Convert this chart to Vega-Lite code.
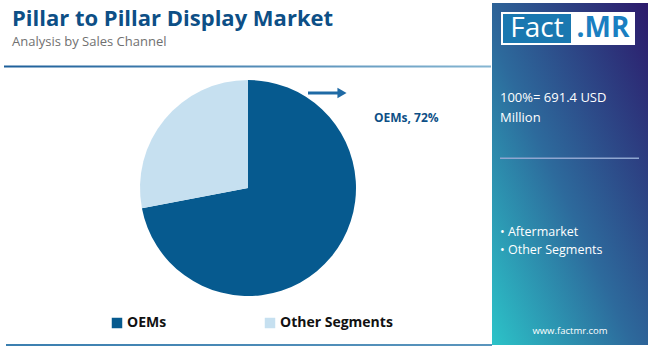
{
  "$schema": "https://vega.github.io/schema/vega-lite/v6.json",
  "width": 650,
  "height": 347,
  "autosize": {"type": "none"},
  "padding": 0,
  "background": "white",
  "view": {"stroke": null},
  "config": {"font": "Open Sans"},
  "title": {
    "text": "Pillar to Pillar Display Market",
    "subtitle": "Analysis by Sales Channel",
    "anchor": "start",
    "frame": "group",
    "orient": "top",
    "dx": 12,
    "dy": 54,
    "font": "Open Sans",
    "fontSize": 22,
    "fontWeight": "bold",
    "color": "#0d4f86",
    "subtitleFont": "Open Sans",
    "subtitleFontSize": 13,
    "subtitleColor": "#707070",
    "subtitlePadding": 5
  },
  "data": {"values": [
    {"channel": "OEMs", "share": 72},
    {"channel": "Other Segments", "share": 28}
  ]},
  "layer": [
    {
      "data": {"values": [{}]},
      "mark": {"type": "rect", "color": {"gradient": "linear", "x1": 0, "y1": 1, "x2": 1, "y2": 0, "stops": [{"offset": 0, "color": "#2cc3c8"}, {"offset": 0.45, "color": "#2d6a9c"}, {"offset": 1, "color": "#2c1a6b"}]}},
      "encoding": {
        "x": {"datum": 492, "type": "quantitative", "scale": {"domain": [0, 650], "nice": false, "zero": false}, "axis": null},
        "x2": {"datum": 648},
        "y": {"datum": 3, "type": "quantitative", "scale": {"domain": [0, 347], "nice": false, "zero": false, "reverse": true}, "axis": null},
        "y2": {"datum": 345}
      }
    },
    {
      "data": {"values": [{}]},
      "mark": {"type": "rect", "color": "white"},
      "encoding": {
        "x": {"datum": 501, "type": "quantitative", "scale": {"domain": [0, 650], "nice": false, "zero": false}, "axis": null},
        "x2": {"datum": 635},
        "y": {"datum": 12, "type": "quantitative", "scale": {"domain": [0, 347], "nice": false, "zero": false, "reverse": true}, "axis": null},
        "y2": {"datum": 45}
      }
    },
    {
      "data": {"values": [{}]},
      "mark": {"type": "rect", "color": "#1a78b0"},
      "encoding": {
        "x": {"datum": 503, "type": "quantitative", "scale": {"domain": [0, 650], "nice": false, "zero": false}, "axis": null},
        "x2": {"datum": 571},
        "y": {"datum": 14, "type": "quantitative", "scale": {"domain": [0, 347], "nice": false, "zero": false, "reverse": true}, "axis": null},
        "y2": {"datum": 43}
      }
    },
    {
      "data": {"values": [{}]},
      "mark": {"type": "text", "text": "Fact", "font": "Open Sans", "fontSize": 28, "color": "white", "align": "center", "baseline": "middle"},
      "encoding": {
        "x": {"datum": 537, "type": "quantitative", "scale": {"domain": [0, 650], "nice": false, "zero": false}, "axis": null},
        "y": {"datum": 29, "type": "quantitative", "scale": {"domain": [0, 347], "nice": false, "zero": false, "reverse": true}, "axis": null}
      }
    },
    {
      "data": {"values": [{}]},
      "mark": {"type": "text", "text": ".MR", "font": "Open Sans", "fontSize": 28, "fontWeight": "bold", "color": "#1a7fc1", "align": "center", "baseline": "middle"},
      "encoding": {
        "x": {"datum": 603, "type": "quantitative", "scale": {"domain": [0, 650], "nice": false, "zero": false}, "axis": null},
        "y": {"datum": 29, "type": "quantitative", "scale": {"domain": [0, 347], "nice": false, "zero": false, "reverse": true}, "axis": null}
      }
    },
    {
      "data": {"values": [{}]},
      "mark": {"type": "text", "text": ["100%= 691.4 USD", "Million"], "lineHeight": 20, "font": "Open Sans", "fontSize": 13, "color": "white", "align": "left", "baseline": "middle"},
      "encoding": {
        "x": {"datum": 500, "type": "quantitative", "scale": {"domain": [0, 650], "nice": false, "zero": false}, "axis": null},
        "y": {"datum": 98, "type": "quantitative", "scale": {"domain": [0, 347], "nice": false, "zero": false, "reverse": true}, "axis": null}
      }
    },
    {
      "data": {"values": [{}]},
      "mark": {"type": "rect", "color": "#8fa6d0"},
      "encoding": {
        "x": {"datum": 500, "type": "quantitative", "scale": {"domain": [0, 650], "nice": false, "zero": false}, "axis": null},
        "x2": {"datum": 639},
        "y": {"datum": 157.5, "type": "quantitative", "scale": {"domain": [0, 347], "nice": false, "zero": false, "reverse": true}, "axis": null},
        "y2": {"datum": 159}
      }
    },
    {
      "data": {"values": [{}]},
      "mark": {"type": "text", "text": ["• Aftermarket", "• Other Segments"], "lineHeight": 18, "font": "Open Sans", "fontSize": 12.5, "color": "white", "align": "left", "baseline": "middle"},
      "encoding": {
        "x": {"datum": 500, "type": "quantitative", "scale": {"domain": [0, 650], "nice": false, "zero": false}, "axis": null},
        "y": {"datum": 232, "type": "quantitative", "scale": {"domain": [0, 347], "nice": false, "zero": false, "reverse": true}, "axis": null}
      }
    },
    {
      "data": {"values": [{}]},
      "mark": {"type": "text", "text": "www.factmr.com", "font": "Open Sans", "fontSize": 9.5, "color": "white", "align": "center", "baseline": "middle"},
      "encoding": {
        "x": {"datum": 570, "type": "quantitative", "scale": {"domain": [0, 650], "nice": false, "zero": false}, "axis": null},
        "y": {"datum": 331, "type": "quantitative", "scale": {"domain": [0, 347], "nice": false, "zero": false, "reverse": true}, "axis": null}
      }
    },
    {
      "data": {"values": [{}]},
      "mark": {"type": "rect", "color": {"gradient": "linear", "x1": 0, "y1": 0, "x2": 1, "y2": 0, "stops": [{"offset": 0, "color": "#1d5f9a"}, {"offset": 1, "color": "#86b6d2"}]}},
      "encoding": {
        "x": {"datum": 4, "type": "quantitative", "scale": {"domain": [0, 650], "nice": false, "zero": false}, "axis": null},
        "x2": {"datum": 491},
        "y": {"datum": 65.5, "type": "quantitative", "scale": {"domain": [0, 347], "nice": false, "zero": false, "reverse": true}, "axis": null},
        "y2": {"datum": 67.5}
      }
    },
    {
      "data": {"values": [{}]},
      "mark": {"type": "rect", "color": {"gradient": "linear", "x1": 0, "y1": 0, "x2": 1, "y2": 0, "stops": [{"offset": 0, "color": "#3b7fb0"}, {"offset": 1, "color": "#5a95bd"}]}},
      "encoding": {
        "x": {"datum": 6, "type": "quantitative", "scale": {"domain": [0, 650], "nice": false, "zero": false}, "axis": null},
        "x2": {"datum": 492},
        "y": {"datum": 344, "type": "quantitative", "scale": {"domain": [0, 347], "nice": false, "zero": false, "reverse": true}, "axis": null},
        "y2": {"datum": 346}
      }
    },
    {
      "mark": {"type": "arc", "radius": 108},
      "encoding": {
        "theta": {"field": "share", "type": "quantitative", "stack": true},
        "color": {
          "field": "channel",
          "type": "nominal",
          "scale": {"domain": ["OEMs", "Other Segments"], "range": ["#065a8f", "#c6e0f0"]},
          "legend": {
            "title": null,
            "orient": "none",
            "legendX": 110,
            "legendY": 316,
            "direction": "horizontal",
            "symbolType": "square",
            "symbolSize": 110,
            "symbolStrokeWidth": 0,
            "labelFont": "Open Sans",
            "labelFontSize": 14,
            "labelFontWeight": "bold",
            "labelColor": "#111111",
            "labelOffset": 3,
            "columnPadding": 96
          }
        },
        "order": {"field": "channel", "sort": "ascending"},
        "x": {"datum": 248, "type": "quantitative", "scale": {"domain": [0, 650], "nice": false, "zero": false}, "axis": null},
        "y": {"datum": 188, "type": "quantitative", "scale": {"domain": [0, 347], "nice": false, "zero": false, "reverse": true}, "axis": null}
      }
    },
    {
      "data": {"values": [{}]},
      "mark": {"type": "rule", "color": "#1f6aa5", "strokeWidth": 3},
      "encoding": {
        "x": {"datum": 308, "type": "quantitative", "scale": {"domain": [0, 650], "nice": false, "zero": false}, "axis": null},
        "x2": {"datum": 339},
        "y": {"datum": 93, "type": "quantitative", "scale": {"domain": [0, 347], "nice": false, "zero": false, "reverse": true}, "axis": null}
      }
    },
    {
      "data": {"values": [{}]},
      "mark": {"type": "point", "shape": "triangle-right", "filled": true, "size": 110, "color": "#1f6aa5", "opacity": 1},
      "encoding": {
        "x": {"datum": 342, "type": "quantitative", "scale": {"domain": [0, 650], "nice": false, "zero": false}, "axis": null},
        "y": {"datum": 93, "type": "quantitative", "scale": {"domain": [0, 347], "nice": false, "zero": false, "reverse": true}, "axis": null}
      }
    },
    {
      "data": {"values": [{}]},
      "mark": {"type": "text", "text": "OEMs, 72%", "font": "Open Sans", "fontSize": 12, "fontWeight": "bold", "color": "#0d4f86", "align": "left", "baseline": "middle"},
      "encoding": {
        "x": {"datum": 374, "type": "quantitative", "scale": {"domain": [0, 650], "nice": false, "zero": false}, "axis": null},
        "y": {"datum": 118, "type": "quantitative", "scale": {"domain": [0, 347], "nice": false, "zero": false, "reverse": true}, "axis": null}
      }
    }
  ]
}
